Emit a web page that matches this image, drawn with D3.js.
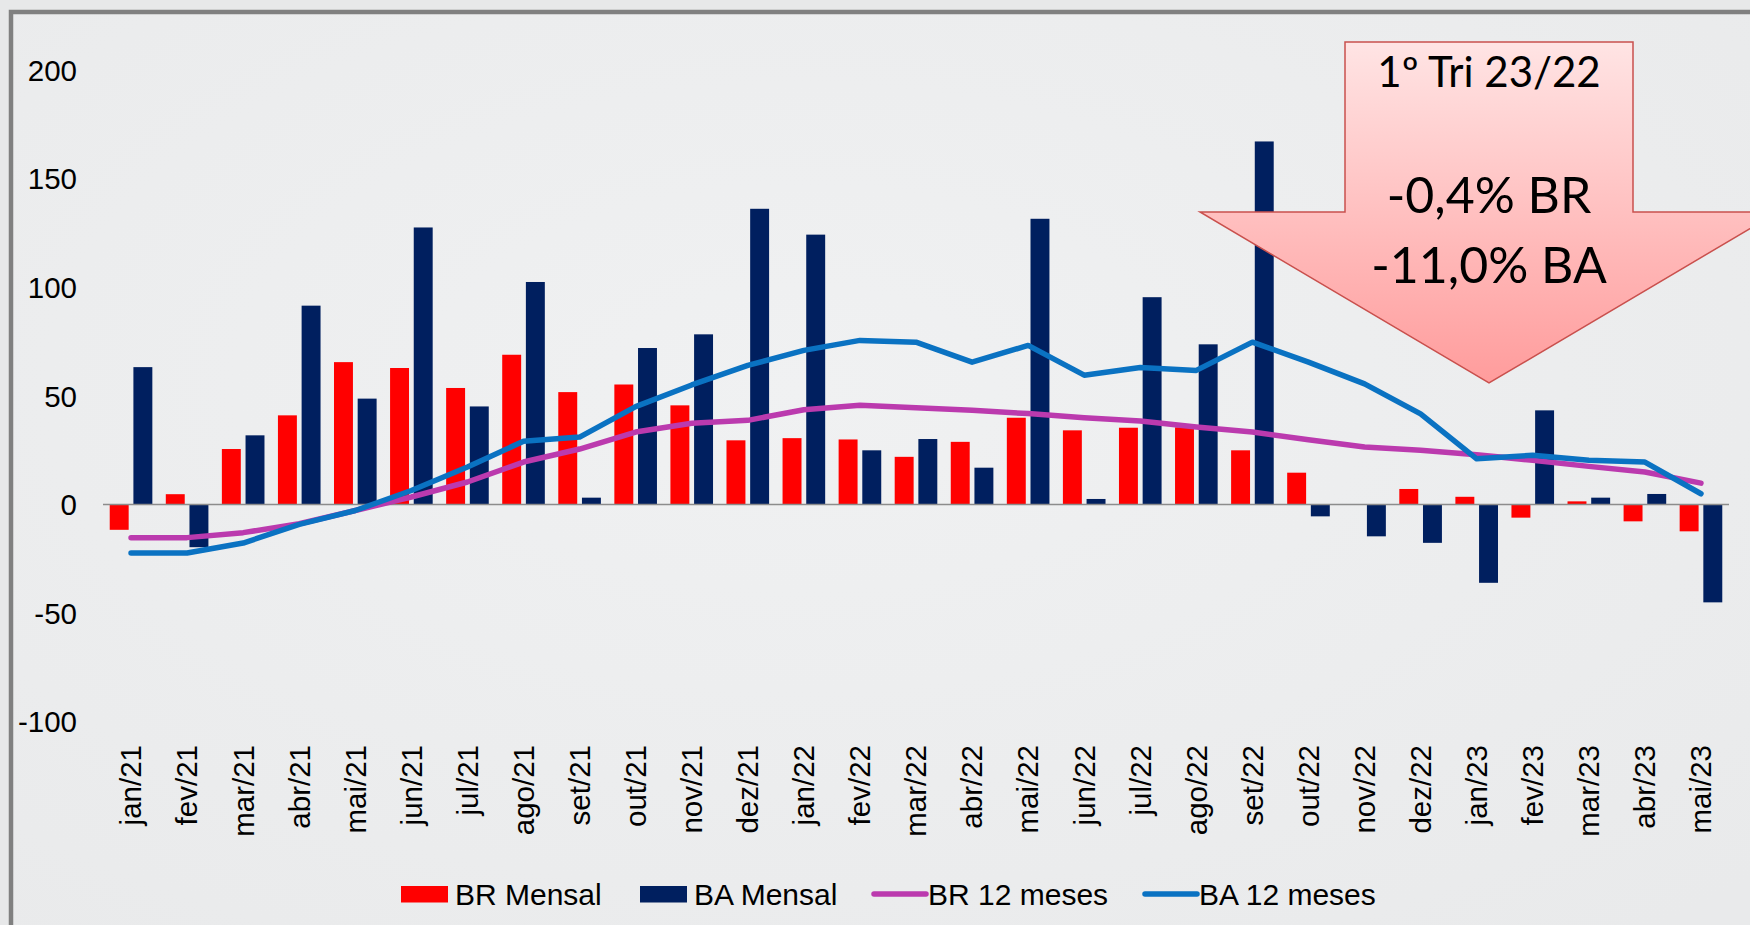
<!DOCTYPE html>
<html>
<head>
<meta charset="utf-8">
<script src="https://cdn.jsdelivr.net/npm/d3@7"></script>
<style>
  html, body { margin: 0; padding: 0; background: #e8e9ea; }
  svg { display: block; }
</style>
</head>
<body>
<svg id="chart" width="1750" height="925"></svg>
<script>
const months = ["jan/21","fev/21","mar/21","abr/21","mai/21","jun/21","jul/21","ago/21","set/21","out/21","nov/21","dez/21",
  "jan/22","fev/22","mar/22","abr/22","mai/22","jun/22","jul/22","ago/22","set/22","out/22","nov/22","dez/22",
  "jan/23","fev/23","mar/23","abr/23","mai/23"];
const brMensal = [-11.7, 4.7, 25.5, 41.0, 65.5, 62.8, 53.6, 68.9, 51.7, 55.2, 45.6, 29.5,
  30.5, 29.9, 21.9, 28.8, 39.9, 34.1, 35.3, 35.5, 24.9, 14.6, 0.0, 7.1,
  3.5, -6.1, 1.4, -7.8, -12.4];
const baMensal = [63.2, -19.7, 31.8, 91.5, 48.7, 127.5, 45.1, 102.4, 3.1, 72.0, 78.3, 136.1,
  124.2, 24.9, 30.1, 16.9, 131.5, 2.5, 95.4, 73.7, 167.1, -5.5, -14.7, -17.7,
  -36.1, 43.3, 3.1, 4.8, -45.1];
const br12 = [-15.3, -15.3, -13.0, -8.9, -2.8, 3.4, 10.3, 19.5, 25.5, 33.3, 37.4, 38.7,
  43.6, 45.6, 44.5, 43.3, 41.8, 39.9, 38.4, 35.6, 33.3, 29.8, 26.4, 24.9,
  22.9, 20.3, 17.5, 14.9, 9.8];
const ba12 = [-22.4, -22.4, -17.8, -9.2, -2.8, 6.4, 17.2, 29.1, 31.0, 45.0, 55.0, 64.0,
  70.9, 75.5, 74.7, 65.5, 73.2, 59.5, 63.0, 61.7, 74.7, 65.5, 55.5, 41.7,
  21.0, 22.6, 20.3, 19.5, 4.9];
const yTicks = [200, 150, 100, 50, 0, -50, -100];
const yTickLabels = ["200", "150", "100", "50", "0", "-50", "-100"];
const seriesNames = ["BR Mensal", "BA Mensal", "BR 12 meses", "BA 12 meses"];
const calloutLines = ["1º Tri 23/22", "-0,4% BR", "-11,0% BA"];

const colors = { br: "#ff0000", ba: "#001f5f", br12: "#bb3aae", ba12: "#0a72c2" };
const svg = d3.select("#chart");
const FONT = "'Liberation Sans', Arial, sans-serif";

// background + frame
const defs = svg.append("defs");
const bg = defs.append("radialGradient").attr("id", "bgGrad").attr("cx", "45%").attr("cy", "40%").attr("r", "75%");
bg.append("stop").attr("offset", "0%").attr("stop-color", "#f0f1f2");
bg.append("stop").attr("offset", "100%").attr("stop-color", "#e9eaeb");
svg.append("rect").attr("x", 0).attr("y", 0).attr("width", 1750).attr("height", 925).attr("fill", "#e7e8e9");
svg.append("rect").attr("x", 11).attr("y", 12).attr("width", 1760).attr("height", 940).attr("fill", "url(#bgGrad)");
svg.append("path").attr("d", "M11,930 L11,12 L1760,12").attr("fill", "none")
  .attr("stroke", "#808080").attr("stroke-width", 4.5);

const x = d3.scaleBand().domain(months).range([103, 1729]).paddingInner(0.24).paddingOuter(0.12);
const x1 = d3.scaleBand().domain(["br", "ba"]).range([0, x.bandwidth()]).paddingInner(0.2);
const y = d3.scaleLinear().domain([-100, 200]).range([721.6, 70]);
const cx = m => x(m) + x.bandwidth() / 2;

// y axis labels
const yAxis = d3.axisLeft(y).tickValues(yTicks).tickSize(0).tickPadding(0)
  .tickFormat(v => yTickLabels[yTicks.indexOf(v)]);
const yg = svg.append("g").attr("transform", "translate(77,0)").call(yAxis);
yg.select(".domain").remove();
yg.selectAll("text").attr("font-family", FONT).attr("font-size", 29.5).attr("fill", "#000").attr("dy", "0.35em");

// x axis labels (rotated)
const xAxis = d3.axisBottom(x).tickSize(0).tickPadding(0);
const xg = svg.append("g").attr("transform", "translate(0,745)").call(xAxis);
xg.select(".domain").remove();
xg.selectAll("text")
  .attr("font-family", FONT).attr("font-size", 29.5).attr("fill", "#000")
  .attr("text-anchor", "end").attr("transform", "rotate(-90)")
  .attr("x", 0).attr("y", 0).attr("dy", "0.35em");

// bars
const rows = months.map((m, i) => ({ m, br: brMensal[i], ba: baMensal[i] }));
const barG = svg.append("g");
["br", "ba"].forEach(k => {
  barG.selectAll(".bar-" + k).data(rows).join("rect")
    .attr("x", d => x(d.m) + x1(k))
    .attr("width", x1.bandwidth())
    .attr("y", d => y(Math.max(0, d[k])))
    .attr("height", d => Math.abs(y(d[k]) - y(0)))
    .attr("fill", colors[k]);
});

// zero line
svg.append("line").attr("x1", x.range()[0]).attr("x2", x.range()[1])
  .attr("y1", y(0)).attr("y2", y(0)).attr("stroke", "#8c8c8c").attr("stroke-width", 1.5);

// lines
const line = d3.line().x((d, i) => cx(months[i])).y(d => y(d));
svg.append("path").datum(br12).attr("d", line).attr("fill", "none")
  .attr("stroke", colors.br12).attr("stroke-width", 5.5).attr("stroke-linejoin", "round").attr("stroke-linecap", "round");
svg.append("path").datum(ba12).attr("d", line).attr("fill", "none")
  .attr("stroke", colors.ba12).attr("stroke-width", 5.5).attr("stroke-linejoin", "round").attr("stroke-linecap", "round");

// legend
const legend = svg.append("g").attr("font-family", FONT).attr("font-size", 30);
const legItems = [
  { name: seriesNames[0], type: "rect", color: colors.br, x: 401 },
  { name: seriesNames[1], type: "rect", color: colors.ba, x: 640 },
  { name: seriesNames[2], type: "line", color: colors.br12, x: 874 },
  { name: seriesNames[3], type: "line", color: colors.ba12, x: 1145 }
];
legItems.forEach(it => {
  if (it.type === "rect") {
    legend.append("rect").attr("x", it.x).attr("y", 886).attr("width", 47).attr("height", 16.5).attr("fill", it.color);
  } else {
    legend.append("line").attr("x1", it.x).attr("x2", it.x + 52).attr("y1", 894).attr("y2", 894)
      .attr("stroke", it.color).attr("stroke-width", 5.5).attr("stroke-linecap", "round");
  }
  legend.append("text").attr("x", it.x + 54).attr("y", 905).attr("fill", "#000").text(it.name);
});

// callout arrow
const ag = defs.append("linearGradient").attr("id", "arrowGrad").attr("x1", 0).attr("y1", 0).attr("x2", 0).attr("y2", 1);
ag.append("stop").attr("offset", "0%").attr("stop-color", "#ffe4e4");
ag.append("stop").attr("offset", "100%").attr("stop-color", "#ff9c9c");
const arrowPts = [[1345, 42], [1633, 42], [1633, 212], [1778, 212], [1489, 383], [1200, 212], [1345, 212]];
svg.append("polygon").attr("points", arrowPts.map(p => p.join(",")).join(" "))
  .attr("fill", "url(#arrowGrad)").attr("stroke", "#c9504d").attr("stroke-width", 1.5);
const cf = "Lato, 'Open Sans', sans-serif";
svg.append("text").attr("x", 1489).attr("y", 87).attr("text-anchor", "middle")
  .attr("font-family", cf).attr("font-size", 42).attr("fill", "#000").text(calloutLines[0]);
svg.append("text").attr("x", 1489).attr("y", 213).attr("text-anchor", "middle")
  .attr("font-family", cf).attr("font-size", 50).attr("fill", "#000").text(calloutLines[1]);
svg.append("text").attr("x", 1489).attr("y", 283).attr("text-anchor", "middle")
  .attr("font-family", cf).attr("font-size", 50).attr("fill", "#000").text(calloutLines[2]);
</script>
</body>
</html>
